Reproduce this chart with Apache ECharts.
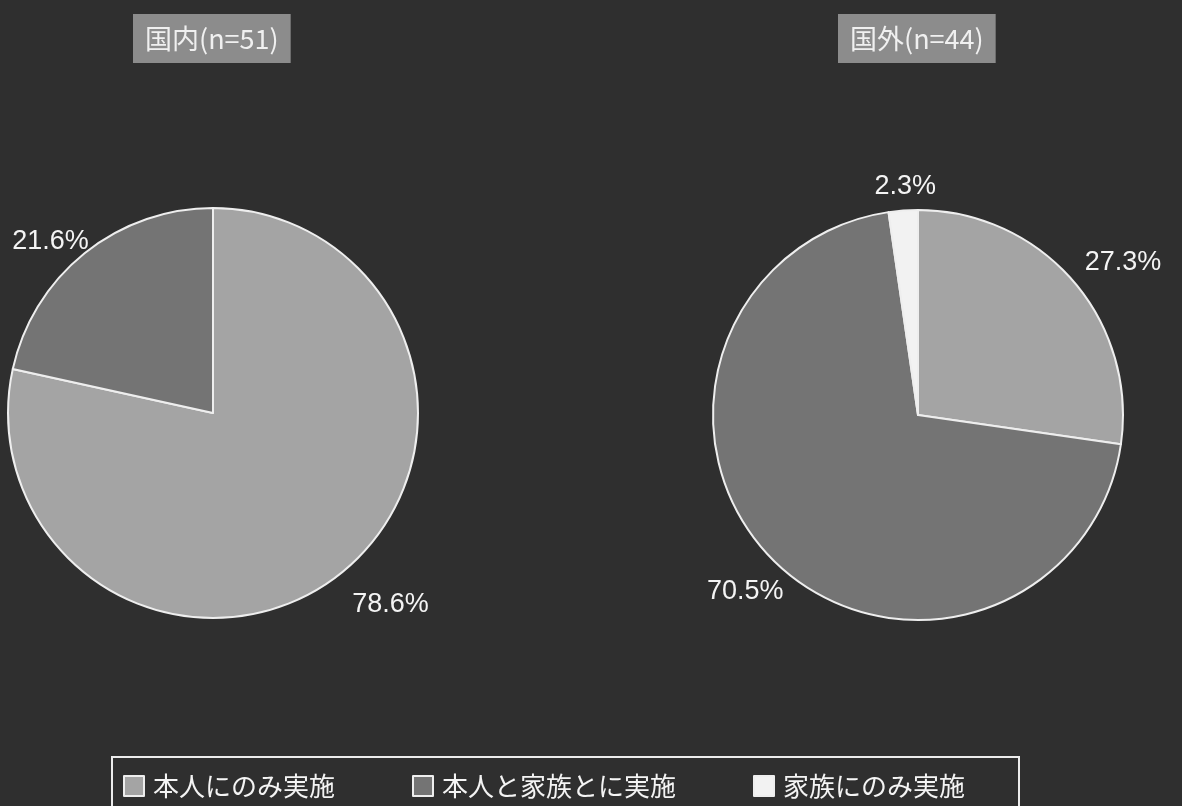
<!DOCTYPE html>
<html>
<head>
<meta charset="utf-8">
<script src="https://cdn.jsdelivr.net/npm/echarts@6/dist/echarts.min.js"></script>
<style>
html,body{margin:0;padding:0;background:#303030;}
#chart{width:1182px;height:806px;}
</style>
</head>
<body>
<div id="chart"></div>
<script>
// ---- data ----
const categories = ['本人にのみ実施', '本人と家族とに実施', '家族にのみ実施'];
const domesticTitle = '国内(n=51)';
const overseasTitle = '国外(n=44)';
const domesticValues = [78.6, 21.6, 0];
const overseasValues = [27.3, 70.5, 2.3];

// ---- styles ----
const sliceColors = ['#a4a4a4', '#747474', '#f2f2f2'];
const FONT = '"Liberation Sans", Arial, "Noto Sans CJK JP", sans-serif';
const CJK = '"Noto Sans CJK JP", "Liberation Sans", sans-serif';
const RADIUS = 205;
// label nudge (px) from the slice's outer edge midpoint, per pie, per visible slice
const labelNudge = [
  [[49, 32], [-34, -12]],
  [[50, -18], [-28, 31], [2, -24]]
];

function buildData(values) {
  return categories.map((c, i) => ({
    name: c, value: values[i],
    itemStyle: { color: sliceColors[i] }
  })).filter(d => d.value > 0);
}

function pieSeries(values, cx, cy, si) {
  const data = buildData(values);
  const total = data.reduce((a, d) => a + d.value, 0);
  let acc = 0;
  const mids = data.map(d => { const m = (acc + d.value / 2) / total * 2 * Math.PI; acc += d.value; return m; });
  return {
    type: 'pie',
    center: [cx, cy],
    radius: RADIUS,
    startAngle: 90,
    clockwise: true,
    avoidLabelOverlap: false,
    animation: false,
    data: data,
    itemStyle: { borderColor: '#eeeeee', borderWidth: 2 },
    label: {
      show: true,
      position: 'outside',
      formatter: p => p.value.toFixed(1) + '%',
      color: '#f4f4f4',
      fontFamily: FONT,
      fontSize: 27
    },
    labelLine: { show: false, length: 28, length2: 0 },
    labelLayout: function (p) {
      const a = mids[p.dataIndex];
      const n = labelNudge[si][p.dataIndex];
      return {
        x: cx + RADIUS * Math.sin(a) + n[0],
        y: cy - RADIUS * Math.cos(a) + n[1],
        align: 'center',
        verticalAlign: 'middle'
      };
    },
    emphasis: { disabled: true }
  };
}

const chart = echarts.init(document.getElementById('chart'));
chart.setOption({
  backgroundColor: '#2f2f2f',
  color: sliceColors,
  title: [
    {
      text: domesticTitle, left: 133, top: 14,
      backgroundColor: '#8c8c8c',
      padding: [11, 12, 11, 12],
      textStyle: { color: '#f0f0f0', fontFamily: CJK, fontSize: 27, fontWeight: 'normal' }
    },
    {
      text: overseasTitle, left: 838, top: 14,
      backgroundColor: '#8c8c8c',
      padding: [11, 12, 11, 12],
      textStyle: { color: '#f0f0f0', fontFamily: CJK, fontSize: 27, fontWeight: 'normal' }
    }
  ],
  legend: {
    data: categories,
    left: 112, top: 757,
    orient: 'horizontal',
    icon: 'rect',
    itemWidth: 20, itemHeight: 20,
    itemGap: 77,
    padding: [16, 54, 20, 11],
    borderColor: '#ececec', borderWidth: 2,
    textStyle: { color: '#f4f4f4', fontFamily: CJK, fontSize: 26, padding: [0, 0, 0, 4] },
    selectedMode: false
  },
  series: [
    pieSeries(domesticValues, 213, 413, 0),
    pieSeries(overseasValues, 918, 415, 1)
  ]
});
</script>
</body>
</html>
